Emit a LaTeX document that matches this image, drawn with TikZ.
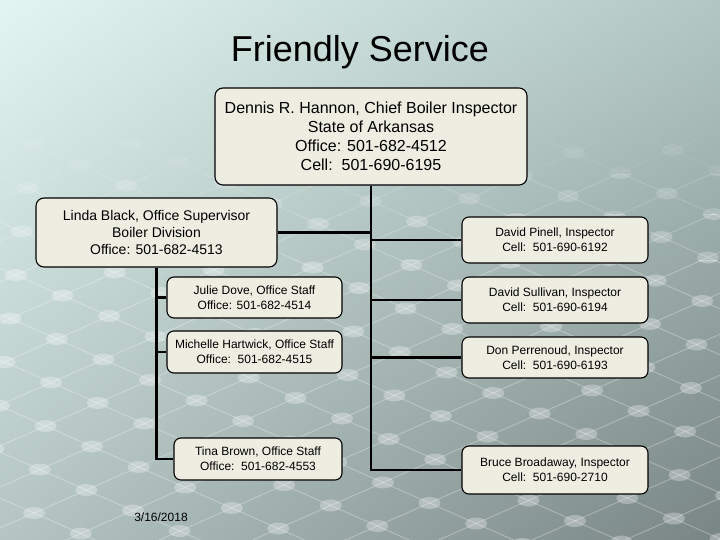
\documentclass[tikz,border=0pt]{standalone}
\usepackage{fontspec}
\setmainfont{Liberation Sans}
\usetikzlibrary{shadings}
\definecolor{boxfill}{RGB}{238,237,226}
\definecolor{bgTL}{RGB}{226,245,240}
\definecolor{bgTR}{RGB}{178,199,196}
\definecolor{bgBL}{RGB}{180,197,194}
\definecolor{bgBR}{RGB}{120,133,131}
\tikzset{
  orgbox/.style={draw=black, line width=1.1pt, fill=boxfill, rounded corners=8pt,
    align=center, inner sep=0pt, text=black},
  bigtext/.style={font=\fontsize{16}{19}\selectfont},
  midtext/.style={font=\fontsize{14}{16.8}\selectfont},
  smalltext/.style={font=\fontsize{12}{15}\selectfont},
  link/.style={line width=2.4pt, draw=black},
  gridline/.style={draw=white, line width=0.9pt},
  griddot/.style={fill=white},
}
\newcommand{\mybggrid}{%
  \foreach \k in {-14,...,7} {
    \pgfmathsetmacro{\c}{268+46*\k}
    \draw[gridline] (-20,{\c-0.44*20}) -- (740,{\c+0.44*740});
  }
  \foreach \k in {-7,...,14} {
    \pgfmathsetmacro{\c}{282+41*\k}
    \draw[gridline] (-20,{\c+0.44*20}) -- (740,{\c-0.44*740});
  }
  \foreach \a in {-14,...,7} {
    \foreach \b in {-7,...,14} {
      \pgfmathsetmacro{\ca}{268+46*\a}
      \pgfmathsetmacro{\cb}{282+41*\b}
      \pgfmathsetmacro{\px}{(\cb-\ca)/0.88}
      \pgfmathsetmacro{\py}{(\ca+\cb)/2}
      \ifdim \px pt>-20pt \ifdim \px pt<740pt \ifdim \py pt>100pt \ifdim \py pt<560pt
        \fill[griddot] (\px,\py) ellipse [x radius=11, y radius=6];
      \fi\fi\fi\fi
    }
  }%
}
\begin{document}
\begin{tikzpicture}[x=1pt, y=-1pt]
\useasboundingbox (0,0) rectangle (720,540);
\shade[upper left=bgTL, upper right=bgTR, lower left=bgBL, lower right=bgBR] (0,0) rectangle (720,540);
% background grid pattern, fading in towards the bottom
\begin{scope}
  \clip (0,140) rectangle (720,175);
  \begin{scope}[opacity=0.08]\mybggrid\end{scope}
\end{scope}
\begin{scope}
  \clip (0,175) rectangle (720,215);
  \begin{scope}[opacity=0.16]\mybggrid\end{scope}
\end{scope}
\begin{scope}
  \clip (0,215) rectangle (720,260);
  \begin{scope}[opacity=0.24]\mybggrid\end{scope}
\end{scope}
\begin{scope}
  \clip (0,260) rectangle (720,540);
  \begin{scope}[opacity=0.3]\mybggrid\end{scope}
\end{scope}

\node[font=\fontsize{36}{43}\selectfont, anchor=base, inner sep=0pt] (title) at (360,62) {Friendly Service};

\node[orgbox, bigtext, minimum width=312pt, minimum height=97pt] (dennis) at (371,136.5)
  {Dennis R. Hannon, Chief Boiler Inspector\\State of Arkansas\\Office: 501-682-4512\\Cell:\ \ 501-690-6195};
\node[orgbox, midtext, minimum width=241pt, minimum height=69pt] (linda) at (156.5,232.5)
  {Linda Black, Office Supervisor\\Boiler Division\\Office: 501-682-4513};
\node[orgbox, smalltext, minimum width=175pt, minimum height=41pt, rounded corners=7pt] (julie) at (254.5,297.5)
  {Julie Dove, Office Staff\\Office: 501-682-4514};
\node[orgbox, smalltext, minimum width=175pt, minimum height=42pt, rounded corners=7pt] (michelle) at (254.5,352)
  {Michelle Hartwick, Office Staff\\Office:\ \ 501-682-4515};
\node[orgbox, smalltext, minimum width=168pt, minimum height=42pt, rounded corners=7pt] (tina) at (258,459)
  {Tina Brown, Office Staff\\Office:\ \ 501-682-4553};
\node[orgbox, smalltext, minimum width=186pt, minimum height=46pt, rounded corners=7pt] (pinell) at (555,240)
  {David Pinell, Inspector\\Cell:\ \ 501-690-6192};
\node[orgbox, smalltext, minimum width=186pt, minimum height=46pt, rounded corners=7pt] (sullivan) at (555,300)
  {David Sullivan, Inspector\\Cell:\ \ 501-690-6194};
\node[orgbox, smalltext, minimum width=186pt, minimum height=41pt, rounded corners=7pt] (perrenoud) at (555,357.5)
  {Don Perrenoud, Inspector\\Cell:\ \ 501-690-6193};
\node[orgbox, smalltext, minimum width=186pt, minimum height=48pt, rounded corners=7pt] (bruce) at (555,470)
  {Bruce Broadaway, Inspector\\Cell:\ \ 501-690-2710};

\draw[link] (dennis.south) |- (bruce.west);
\draw[link] (linda.east) -- (linda.east -| dennis.south);
\draw[link] (pinell.west) -- (pinell.west -| dennis.south);
\draw[link] (sullivan.west) -- (sullivan.west -| dennis.south);
\draw[link] (perrenoud.west) -- (perrenoud.west -| dennis.south);
\draw[link] (linda.south) |- (tina.west);
\draw[link] (julie.west) -- (julie.west -| linda.south);
\draw[link] (michelle.west) -- (michelle.west -| linda.south);

\node[font=\fontsize{12}{14}\selectfont, anchor=base, inner sep=0pt] (date) at (161,521) {3/16/2018};
\end{tikzpicture}
\end{document}
